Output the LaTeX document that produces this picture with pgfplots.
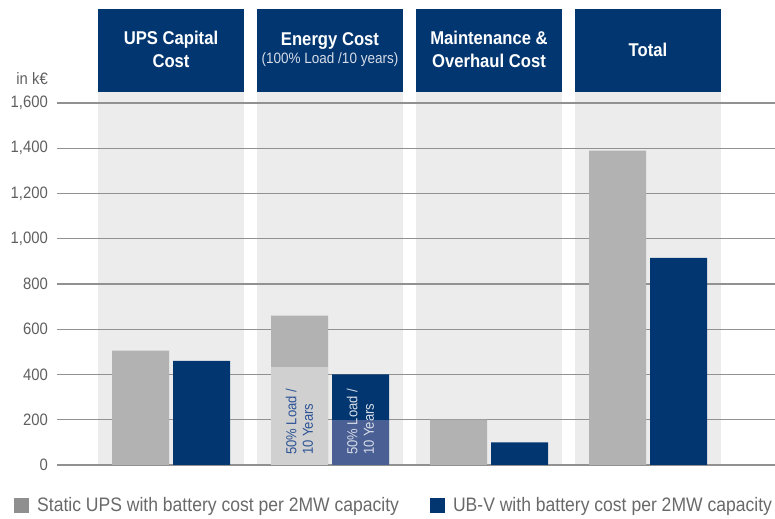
\documentclass[border=0pt]{standalone}
\usepackage{pgfplots}
\pgfplotsset{compat=1.18}
\usepackage{fontspec}
\setmainfont{Liberation Sans}[FakeStretch=0.9]
\definecolor{navy}{RGB}{2,54,112}
\definecolor{panel}{RGB}{236,236,236}
\definecolor{bargray}{RGB}{178,178,178}
\definecolor{lightgraybar}{RGB}{208,208,208}
\definecolor{lightnavy}{RGB}{74,95,148}
\definecolor{gridc}{RGB}{145,145,145}
\definecolor{tickc}{RGB}{95,95,95}
\definecolor{legc}{RGB}{105,105,105}
\definecolor{leggray}{RGB}{143,143,143}
\definecolor{subc}{RGB}{215,221,232}
\definecolor{intext}{RGB}{44,83,150}
\pgfplotsset{sqlegend/.style={legend image code/.code={\fill[##1] (0bp,-7.5bp) rectangle (15bp,7.5bp);}}}
\begin{document}
\begin{tikzpicture}[x=1bp,y=1bp]
\begin{scope}[shift={(-57,465)},y=-1bp]
\foreach \a in {98,257,416,575} {
  \fill[panel] (\a,92) rectangle (\a+146,465);
  \fill[navy] (\a,9) rectangle (\a+146,92);
}
\end{scope}
\begin{axis}[
  at={(0,0)}, anchor=south west,
  width=718bp, height=362bp, scale only axis,
  xmin=57, xmax=775, ymin=0, ymax=1600,
  clip=false,
  axis line style={draw=none},
  tick style={draw=none},
  xtick=\empty,
  ytick={0,200,...,1600},
  yticklabels={0,200,400,600,800,{1,000},{1,200},{1,400},{1,600}},
  yticklabel style={font=\fontsize{16.5bp}{16.5bp}\selectfont, text=tickc, inner sep=0pt, xshift=-9bp, anchor=east},
  ymajorgrids, grid style={line width=1.1bp, gridc},
  legend style={draw=none, fill=none, inner sep=0pt,
    at={(axis description cs:-0.0599,-0.1119)}, anchor=west,
    nodes={inner sep=0pt, text=legc, font=\fontsize{19.5bp}{19.5bp}\selectfont},
    /tikz/every odd column/.append style={column sep=8bp},
    /tikz/every even column/.append style={column sep=31bp}},
  legend columns=2, legend cell align=left,
]
\addplot[ybar, bar width=57, bar shift=0pt, fill=bargray, draw=none, forget plot]
  coordinates {(140.5,505) (299.5,660) (458.5,200) (617.5,1390)};
\addplot[ybar, bar width=57, bar shift=0pt, fill=navy, draw=none, forget plot]
  coordinates {(201.5,460) (360.5,400) (519.5,100) (678.5,915)};
\addplot[ybar, bar width=57, bar shift=0pt, fill=lightgraybar, draw=none, forget plot]
  coordinates {(299.5,435)};
\addplot[ybar, bar width=57, bar shift=0pt, fill=lightnavy, draw=none, forget plot]
  coordinates {(360.5,200)};
\addlegendimage{sqlegend, fill=leggray, draw=none}
\addlegendentry{Static UPS with battery cost per 2MW capacity}
\addlegendimage{sqlegend, fill=navy, draw=none}
\addlegendentry{UB-V with battery cost per 2MW capacity}
\end{axis}
\begin{scope}[shift={(-57,465)},y=-1bp]
\tikzset{hd/.style={font=\bfseries\fontsize{18.5bp}{18.5bp}\selectfont, text=white, anchor=base, inner sep=0pt}}
\node[hd] at (171,45) {UPS Capital};
\node[hd] at (171,68) {Cost};
\node[hd] at (330,46) {Energy Cost};
\node[font=\fontsize{15bp}{15bp}\selectfont, text=subc, anchor=base, inner sep=0pt] at (330,64) {(100\% Load /10 years)};
\node[hd] at (489,45) {Maintenance \&};
\node[hd] at (489,68) {Overhaul Cost};
\node[hd] at (648,56.7) {Total};
\node[anchor=base east, font=\fontsize{16.5bp}{16.5bp}\selectfont, text=tickc, inner sep=0pt] at (48,85) {in k€};
\node[rotate=90, anchor=west, align=left, inner sep=0pt, font=\fontsize{14.5bp}{16.5bp}\selectfont, text=intext] at (299.5,455) {50\% Load /\\10 Years};
\node[rotate=90, anchor=west, align=left, inner sep=0pt, font=\fontsize{14.5bp}{16.5bp}\selectfont, text=subc] at (360.5,455) {50\% Load /\\10 Years};
\end{scope}
\pgfresetboundingbox
\path (-57,-54) rectangle (718,465);
\end{tikzpicture}
\end{document}
